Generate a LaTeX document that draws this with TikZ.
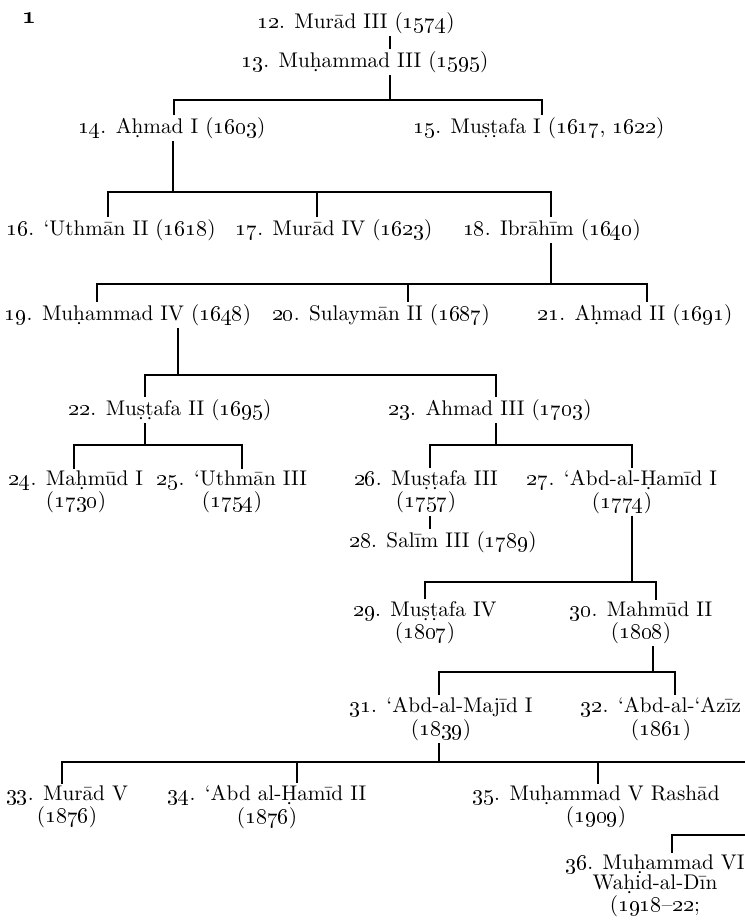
\documentclass[tikz,border=0pt]{standalone}
\usetikzlibrary{positioning}
\newcommand{\os}[1]{\oldstylenums{#1}}
\tikzset{
  ruler/.style={inner sep=1pt, align=center},
  stem/.style={line width=0.8pt}
}
\begin{document}
\begin{tikzpicture}[x=0.5pt, y=-0.5pt, font=\fontsize{10.6}{10}\selectfont]
    \useasboundingbox (0,0) rectangle (745,922);
    \node[ruler, font=\fontsize{12}{12}\fontencoding{OML}\fontfamily{cmm}\fontseries{b}\fontshape{it}\selectfont] (mark) at (29,18) {1};
    % rulers, row by row
    \node[ruler] (n12) at (356,23) {\os{12}. Murād III (\os{1574})};
    \node[ruler] (n13) at (365,62) {\os{13}. Muḥammad III (\os{1595})};
    \node[ruler] (n14) at (172,128) {\os{14}. Aḥmad I (\os{1603})};
    \node[ruler] (n15) at (539,128) {\os{15}. Muṣṭafa I (\os{1617}, \os{1622})};
    \node[ruler] (n16) at (111,230) {\os{16}. ‘Uthmān II (\os{1618})};
    \node[ruler] (n17) at (334,230) {\os{17}. Murād IV (\os{1623})};
    \node[ruler] (n18) at (552,230) {\os{18}. Ibrāhīm (\os{1640})};
    \node[ruler] (n19) at (128,315) {\os{19}. Muḥammad IV (\os{1648})};
    \node[ruler] (n20) at (381,315) {\os{20}. Sulaymān II (\os{1687})};
    \node[ruler] (n21) at (635,315) {\os{21}. Aḥmad II (\os{1691})};
    \node[ruler] (n22) at (170,410) {\os{22}. Muṣṭafa II (\os{1695})};
    \node[ruler] (n23) at (490,410) {\os{23}. Ahmad III (\os{1703})};
    \node[ruler] (n24) at (76,492) {\os{24}. Maḥmūd I\\(\os{1730})};
    \node[ruler] (n25) at (232,492) {\os{25}. ‘Uthmān III\\(\os{1754})};
    \node[ruler] (n26) at (426,492) {\os{26}. Muṣṭafa III\\(\os{1757})};
    \node[ruler] (n27) at (622,492) {\os{27}. ‘Abd-al-Ḥamīd I\\(\os{1774})};
    \node[ruler] (n28) at (443,542) {\os{28}. Salīm III (\os{1789})};
    \node[ruler] (n29) at (425,623) {\os{29}. Muṣṭafa IV\\(\os{1807})};
    \node[ruler] (n30) at (641,623) {\os{30}. Mahmūd II\\(\os{1808})};
    \node[ruler] (n31) at (441,719) {\os{31}. ‘Abd-al-Majīd I\\(\os{1839})};
    \node[ruler] (n32) at (661,719) {\os{32}. ‘Abd-al-‘Azīz\\(\os{1861})};
    \node[ruler] (n33) at (67,807) {\os{33}. Murād V\\(\os{1876})};
    \node[ruler] (n34) at (267,807) {\os{34}. ‘Abd al-Ḥamīd II\\(\os{1876})};
    \node[ruler] (n35) at (596,807) {\os{35}. Muḥammad V Rashād\\(\os{1909})};
    \node[ruler] (n36) at (655,886) {\os{36}. Muḥammad VI\\Waḥid-al-Dīn\\(\os{1918}--\os{22};};
    % junctions of the family lines
    \coordinate (j13) at (390,100);
    \coordinate (j13a) at (174,100);
    \coordinate (j13b) at (542,100);
    \coordinate (j14) at (173,192);
    \coordinate (j14a) at (108,192);
    \coordinate (j14b) at (317,192);
    \coordinate (j14c) at (551,192);
    \coordinate (j18) at (551,284);
    \coordinate (j18a) at (97,284);
    \coordinate (j18b) at (408,284);
    \coordinate (j18c) at (647,284);
    \coordinate (j19) at (178,375);
    \coordinate (j19a) at (145,375);
    \coordinate (j19b) at (496,375);
    \coordinate (j22) at (145,445);
    \coordinate (j22a) at (74,445);
    \coordinate (j22b) at (242,445);
    \coordinate (j23) at (496,445);
    \coordinate (j23a) at (430,445);
    \coordinate (j23b) at (632,445);
    \coordinate (j27) at (632,582);
    \coordinate (j27a) at (425,582);
    \coordinate (j27b) at (656,582);
    \coordinate (j30) at (653,672);
    \coordinate (j30a) at (439,672);
    \coordinate (j30b) at (675,672);
    \coordinate (j31) at (439,762);
    \coordinate (j31a) at (62,762);
    \coordinate (j31b) at (297,762);
    \coordinate (j31c) at (598,762);
    \coordinate (j31d) at (745,762);
    \coordinate (j36) at (672,835);
    \coordinate (j36a) at (745,835);
    % family lines
    \draw[stem] (n12.south -| j13) -- (n13.north -| j13);
    \draw[stem] (n13.south -| j13) -- (j13);
    \draw[stem] (n14.north -| j13a) -- (j13a) -- (j13b) -- (n15.north -| j13b);
    \draw[stem] (n14.south -| j14) -- (j14);
    \draw[stem] (n16.north -| j14a) -- (j14a) -- (j14c) -- (n18.north -| j14c);
    \draw[stem] (j14b) -- (n17.north -| j14b);
    \draw[stem] (n18.south -| j18) -- (j18);
    \draw[stem] (n19.north -| j18a) -- (j18a) -- (j18c) -- (n21.north -| j18c);
    \draw[stem] (j18b) -- (n20.north -| j18b);
    \draw[stem] (n19.south -| j19) -- (j19);
    \draw[stem] (n22.north -| j19a) -- (j19a) -- (j19b) -- (n23.north -| j19b);
    \draw[stem] (n22.south -| j22) -- (j22);
    \draw[stem] (n24.north -| j22a) -- (j22a) -- (j22b) -- (n25.north -| j22b);
    \draw[stem] (n23.south -| j23) -- (j23);
    \draw[stem] (n26.north -| j23a) -- (j23a) -- (j23b) -- (n27.north -| j23b);
    \draw[stem] (n26.south -| j23a) -- (n28.north -| j23a);
    \draw[stem] (n27.south -| j27) -- (j27);
    \draw[stem] (n29.north -| j27a) -- (j27a) -- (j27b) -- (n30.north -| j27b);
    \draw[stem] (n30.south -| j30) -- (j30);
    \draw[stem] (n31.north -| j30a) -- (j30a) -- (j30b) -- (n32.north -| j30b);
    \draw[stem] (n31.south -| j31) -- (j31);
    \draw[stem] (n33.north -| j31a) -- (j31a) -- (j31d);
    \draw[stem] (j31b) -- (n34.north -| j31b);
    \draw[stem] (j31c) -- (n35.north -| j31c);
    \draw[stem] (n36.north -| j36) -- (j36) -- (j36a);
\end{tikzpicture}
\end{document}
